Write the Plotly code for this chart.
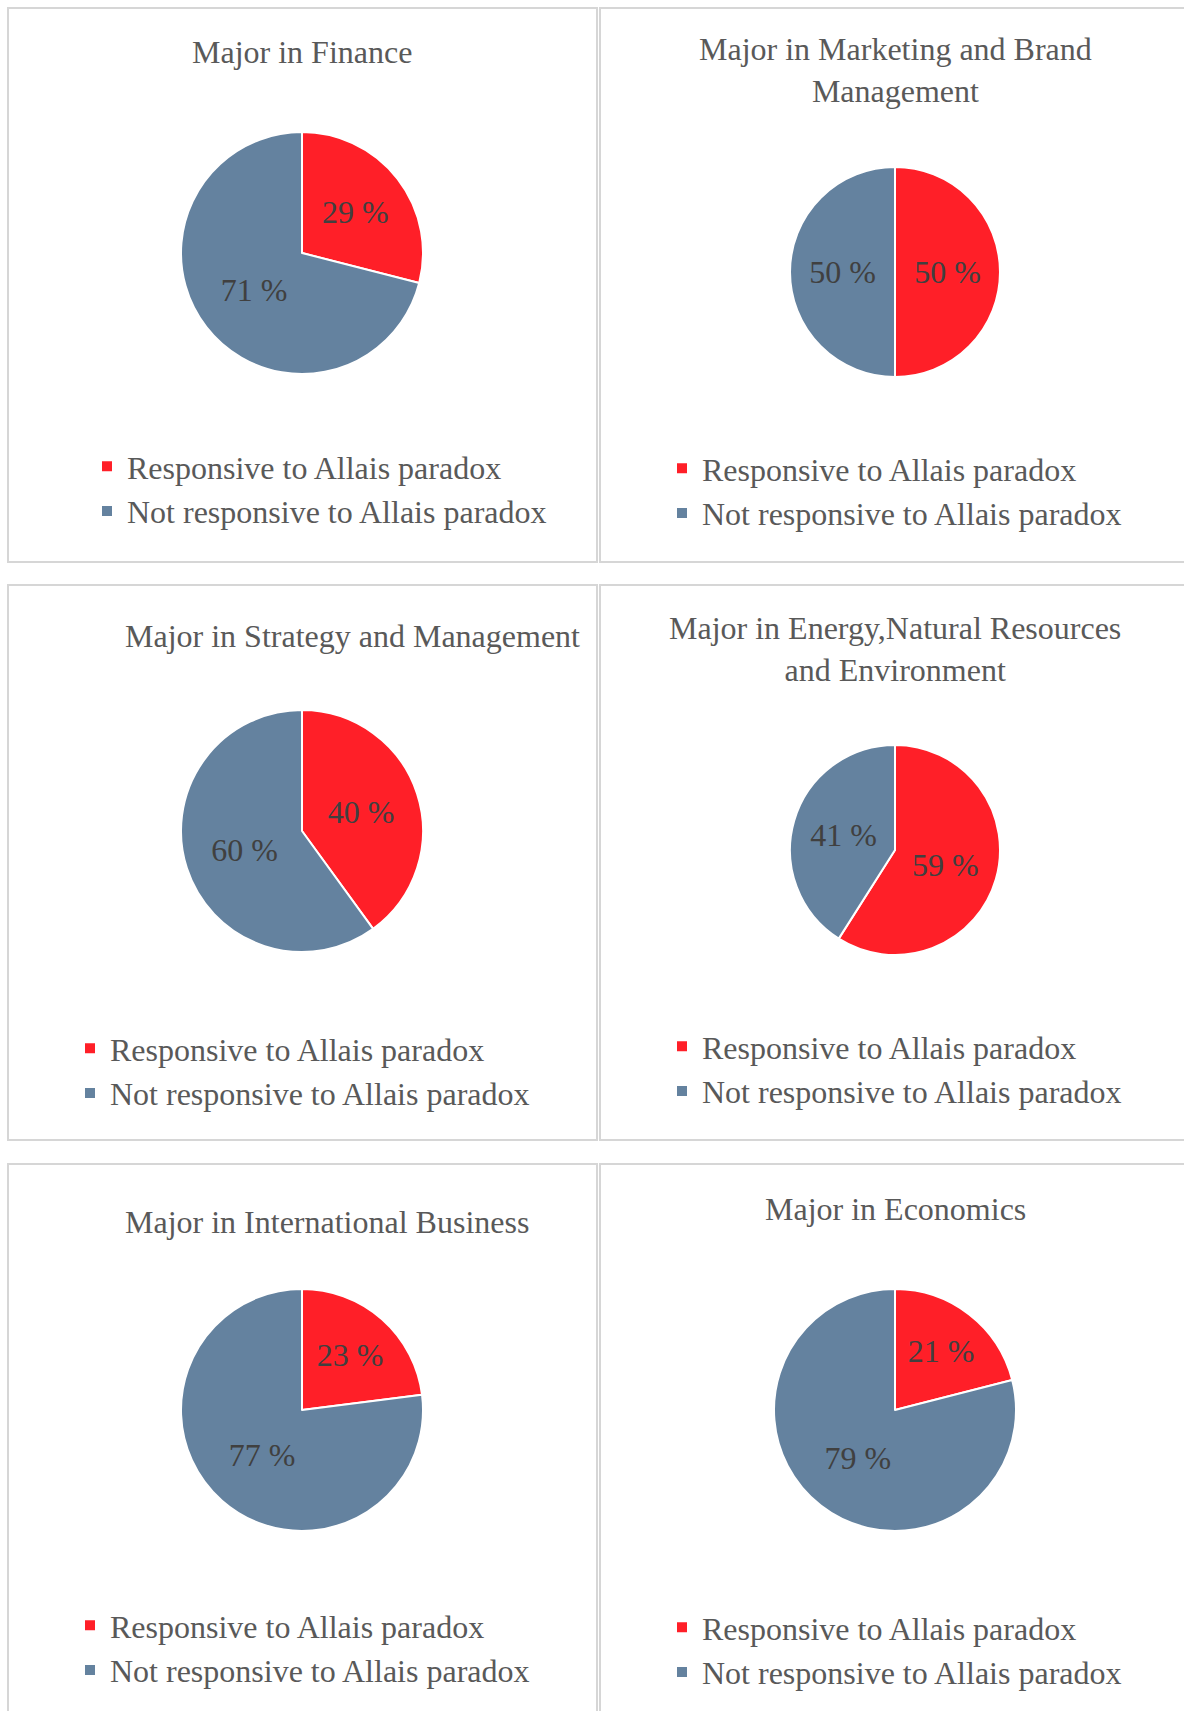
import plotly.graph_objects as go

W, H = 1184, 1711

# ---- data ----
majors = [
    "Major in Finance",
    "Major in Marketing and Brand<br>Management",
    "Major in Strategy and Management",
    "Major in Energy,Natural Resources<br>and Environment",
    "Major in International Business",
    "Major in Economics",
]
categories = ["Responsive to Allais paradox", "Not responsive to Allais paradox"]
responsive = [29, 50, 40, 59, 23, 21]
not_responsive = [71, 50, 60, 41, 77, 79]

# ---- styling / layout (pixel units) ----
FONT = "Liberation Serif"
RED = "#FF1F28"
BLUE = "#64829F"
TEXT_GREY = "#595959"
LABEL_GREY = "#404040"

panel_cols = [(8, 597), (600, 1190)]
panel_rows = [(8, 562), (585, 1140), (1164, 1718)]
pie_geom = [(302, 253, 121), (895, 272, 105), (302, 831, 121),
            (895, 850, 105), (302, 1410, 121), (895, 1410, 121)]
title_pos = [(302, 52), (895, 70), (352, 636), (895, 649), (327, 1222), (895, 1209)]
legend_pos = [(87, 439), (662, 441), (70, 1021), (662, 1019), (70, 1598), (662, 1600)]


def px(x):
    return x / W


def py(y):
    return 1 - y / H


fig = go.Figure()
layout_legends = {}
annotations = []
shapes = []

for i, title in enumerate(majors):
    cx, cy, r = pie_geom[i]
    leg_key = "legend" if i == 0 else f"legend{i + 1}"
    fig.add_trace(go.Pie(
        labels=categories,
        values=[responsive[i], not_responsive[i]],
        sort=False,
        direction="clockwise",
        rotation=0,
        marker=dict(colors=[RED, BLUE], line=dict(color="white", width=2)),
        texttemplate="%{value} %",
        textposition="inside",
        insidetextorientation="horizontal",
        textfont=dict(family=FONT, size=32, color=LABEL_GREY),
        domain=dict(x=[px(cx - r), px(cx + r)], y=[py(cy + r), py(cy - r)]),
        legend=leg_key,
        legendgroup=f"major{i}",
        hoverinfo="label+percent",
    ))

    lx, ly = legend_pos[i]
    layout_legends[leg_key] = dict(
        x=px(lx), y=py(ly), xanchor="left", yanchor="top",
        bgcolor="rgba(0,0,0,0)", borderwidth=0,
        font=dict(family=FONT, size=32, color=TEXT_GREY),
        orientation="v",
    )

    tx, ty = title_pos[i]
    annotations.append(dict(
        text=title, x=px(tx), y=py(ty), xref="paper", yref="paper",
        xanchor="center", yanchor="middle", showarrow=False, align="center",
        font=dict(family=FONT, size=32, color=TEXT_GREY),
    ))

# panel frames
for (y0, y1) in panel_rows:
    for (x0, x1) in panel_cols:
        shapes.append(dict(
            type="rect", xref="paper", yref="paper",
            x0=px(x0), x1=px(x1), y0=py(y1), y1=py(y0),
            line=dict(color="#D6D6D6", width=2), fillcolor="rgba(0,0,0,0)",
            layer="below",
        ))

fig.update_layout(
    width=W, height=H,
    margin=dict(l=0, r=0, t=0, b=0),
    paper_bgcolor="white", plot_bgcolor="white",
    showlegend=True,
    annotations=annotations,
    shapes=shapes,
    **layout_legends,
)

fig.write_html("out.html", config={"displayModeBar": False})
